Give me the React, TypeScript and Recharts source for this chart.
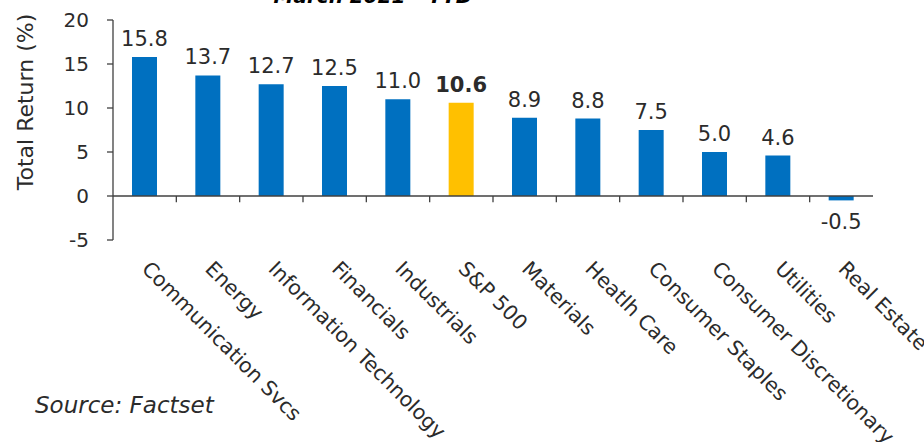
import React from "react";
import {
  BarChart,
  Bar,
  XAxis,
  YAxis,
  Cell,
  LabelList,
  ReferenceLine,
} from "recharts";

const categories = [
  "Communication Svcs",
  "Energy",
  "Information Technology",
  "Financials",
  "Industrials",
  "S&P 500",
  "Materials",
  "Heatlh Care",
  "Consumer Staples",
  "Consumer Discretionary",
  "Utilities",
  "Real Estate",
];
const returns = [15.8, 13.7, 12.7, 12.5, 11.0, 10.6, 8.9, 8.8, 7.5, 5.0, 4.6, -0.5];
const benchmark = "S&P 500";
const yTicks = [-5, 0, 5, 10, 15, 20];

const FONT = "'DejaVu Sans', sans-serif";
const TEXT = "#2b2b2b";
const AXIS = "#404040";
const BLUE = "#0070C0";
const GOLD = "#FFC000";

const data = categories.map((name, i) => ({ name, value: returns[i] }));

function CategoryTick({ x, y, payload }: any) {
  return (
    <text
      transform={`translate(${x - 4},${y + 30}) rotate(45)`}
      textAnchor="start"
      fontSize={20.5}
      fontFamily={FONT}
      fill={TEXT}
    >
      {payload.value}
    </text>
  );
}

function ValueLabel({ x, y, width, height, value, index }: any) {
  const cx = x + width / 2;
  const top = Math.min(y, y + height);
  const bottom = Math.max(y, y + height);
  const ty = value >= 0 ? top - 11 : bottom + 29;
  const bold = categories[index] === benchmark;
  return (
    <text
      x={cx}
      y={ty}
      textAnchor="middle"
      fontSize={21}
      fontFamily={FONT}
      fontWeight={bold ? "bold" : "normal"}
      fill={TEXT}
    >
      {Number(value).toFixed(1)}
    </text>
  );
}

export default function App() {
  return (
    <div style={{ position: "absolute", left: 0, top: 0, width: 924, height: 442, background: "#fff" }}>
      <BarChart
        width={924}
        height={442}
        data={data}
        margin={{ top: 20, right: 51, left: 0, bottom: 0 }}
        barSize={25}
      >
        <YAxis
          width={113}
          domain={[-5, 20]}
          ticks={yTicks}
          interval={0}
          axisLine={{ stroke: AXIS, strokeWidth: 1.3 }}
          tickLine={{ stroke: AXIS, strokeWidth: 1.3 }}
          tickSize={6}
          tickMargin={18}
          tick={{ fill: TEXT, fontSize: 20, fontFamily: FONT }}
        />
        <XAxis
          dataKey="name"
          height={202}
          interval={0}
          axisLine={false}
          tickLine={false}
          tickSize={0}
          tickMargin={0}
          tick={<CategoryTick />}
        />
        <Bar dataKey="value" isAnimationActive={false}>
          {data.map((d) => (
            <Cell key={d.name} fill={d.name === benchmark ? GOLD : BLUE} />
          ))}
          <LabelList dataKey="value" content={<ValueLabel />} />
        </Bar>
        <ReferenceLine y={0} stroke={AXIS} strokeWidth={1.3} />
        {categories.slice(1).map((c) => (
          <ReferenceLine
            key={c}
            segment={[
              { x: c, y: 0 },
              { x: c, y: -0.7 },
            ]}
            position="start"
            stroke={AXIS}
            strokeWidth={1.3}
          />
        ))}
        <ReferenceLine
          segment={[
            { x: categories[categories.length - 1], y: 0 },
            { x: categories[categories.length - 1], y: -0.7 },
          ]}
          position="end"
          stroke={AXIS}
          strokeWidth={1.3}
        />
      </BarChart>
      <svg
        width={924}
        height={442}
        style={{ position: "absolute", left: 0, top: 0, pointerEvents: "none" }}
      >
        <text
          x={373}
          y={3}
          textAnchor="middle"
          fontSize={20}
          fontWeight="bold"
          fontStyle="italic"
          fontFamily={FONT}
          fill="#000"
        >
          March 2021 - YTD
        </text>
        <text
          transform="translate(33,102) rotate(-90)"
          textAnchor="middle"
          fontSize={22}
          fontFamily={FONT}
          fill={TEXT}
        >
          Total Return (%)
        </text>
        <text x={35} y={413} fontSize={23} fontStyle="italic" fontFamily={FONT} fill={TEXT}>
          Source: Factset
        </text>
      </svg>
    </div>
  );
}
